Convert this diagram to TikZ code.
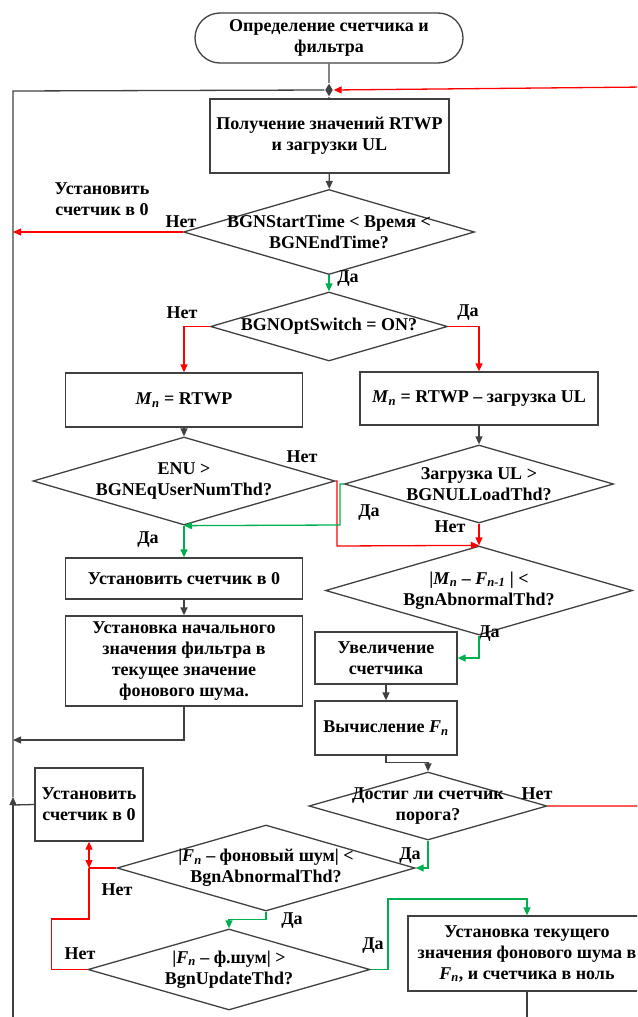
\documentclass[tikz,border=0pt]{standalone}
\usepackage{fontspec}
\setmainfont{Liberation Serif}
\usetikzlibrary{arrows.meta,shapes.geometric}
\definecolor{linegray}{RGB}{64,64,64}
\definecolor{nocolor}{RGB}{255,0,0}
\definecolor{yescolor}{RGB}{0,176,80}
\newcommand{\Mn}{\textit{M}\textsubscript{\textit{n}}}
\newcommand{\Fn}{\textit{F}\textsubscript{\textit{n}}}
\newcommand{\Fnp}{\textit{F}\textsubscript{\textit{n-1}}}

\begin{document}
\begin{tikzpicture}[x=1pt,y=-1pt,
    font=\bfseries\fontsize{18}{21}\selectfont,
    line width=1.3pt,
    >={Triangle[length=8pt,width=7pt]},
    box/.style 2 args={draw=linegray, align=center, inner sep=0pt,
        minimum width=#1pt, minimum height=#2pt},
    dia/.style 2 args={draw=linegray, diamond, inner sep=0pt,
        minimum width=#1pt, minimum height=#2pt},
    txt/.style={align=center, inner sep=0pt},
    gline/.style={draw=linegray},
    noline/.style={draw=nocolor},
    yesline/.style={draw=yescolor}]

    \useasboundingbox (0,0) rectangle (637,1017);
    \clip (0,0) rectangle (637,1017);

    % Start and first block
    \node[box={268}{50}, rounded corners=25pt] (start) at (329,38)
        {Определение счетчика и\\фильтра};
    \node[fill=linegray, diamond, inner sep=0pt, minimum width=8pt,
        minimum height=13pt] (jn) at (329,90) {};
    \node[box={239}{74}] (rtwp) at (329.5,136)
        {Получение значений RTWP\\и загрузки UL};

    % Decisions on time and switch
    \node[dia={291}{85}, label={[txt]center:{BGNStartTime < Время <\\BGNEndTime?}}]
        (tcheck) at (329,232) {};
    \node[dia={237}{69}, label={[txt]center:{BGNOptSwitch = ON?}}]
        (optsw) at (329,326.5) {};
    \node[box={237}{54}] (mrt) at (184,400) {\Mn{} = RTWP};
    \node[box={238}{53}] (mrtul) at (479,398.5) {\Mn{} = RTWP – загрузка UL};
    \node[dia={302}{88}, label={[txt]center:{ENU >\\BGNEqUserNumThd?}}]
        (enu) at (184,481) {};
    \node[dia={269}{78}, label={[txt]center:{Загрузка UL >\\BGNULLoadThd?}}]
        (ulload) at (479,484) {};
    \node[dia={307}{89}, label={[txt]center:{|\Mn{} – \Fnp{} | <\\BgnAbnormalThd?}}]
        (abn) at (479,590.5) {};

    % Left branch
    \node[box={237}{41}] (reset) at (184,578.5) {Установить счетчик в 0};
    \node[box={237}{90}] (init) at (184,661)
        {Установка начального\\значения фильтра в\\текущее значение\\фонового шума.};

    % Right branch
    \node[box={142}{52}] (incr) at (386,658) {Увеличение\\счетчика};
    \node[box={142}{54}] (calc) at (386,728) {Вычисление \Fn};
    \node[dia={238}{68}, label={[txt]center:{Достиг ли счетчик\\порога?}}]
        (thr) at (428,806) {};
    \node[dia={298}{86}, label={[txt]center:{|\Fn{} – фоновый шум| <\\BgnAbnormalThd?}}]
        (noise) at (266,868) {};
    \node[dia={282}{81}, label={[txt]center:{|\Fn{} – ф.шум| >\\BgnUpdateThd?}}]
        (updthd) at (229,969.5) {};
    \node[box={108}{73}] (reset2) at (89,804.5) {Установить\\счетчик в 0};
    \node[box={238}{75}] (upd) at (527,953.5)
        {Установка текущего\\значения фонового шума в\\\Fn, и счетчика в ноль};

    % Free labels
    \node[txt] (skip) at (102,199) {Установить\\счетчик в 0};
    \node[txt] at (181,222) {Нет};
    \node[txt] at (348,279) {Да};
    \node[txt] at (182,313) {Нет};
    \node[txt] at (468,313) {Да};
    \node[txt] at (302,457) {Нет};
    \node[txt] at (148,540) {Да};
    \node[txt] at (369,513) {Да};
    \node[txt] at (450,527) {Нет};
    \node[txt] at (489,634) {Да};
    \node[txt] at (537,794) {Нет};
    \node[txt] at (410,856) {Да};
    \node[txt] at (117,890) {Нет};
    \node[txt] at (292,921) {Да};
    \node[txt] at (80,954) {Нет};
    \node[txt] at (373,946) {Да};

    % Helper points of the loops
    \coordinate (lt) at (13,91);
    \coordinate (lb) at (13,1020);
    \coordinate (la) at (13,797);
    \coordinate (lr) at (13,805);
    \coordinate (lf) at (13,740);
    \coordinate (rb) at (645,806);
    \coordinate (rt) at (645,87);
    \coordinate (j2) at (89,868);
    \coordinate (j3) at (89,919);
    \coordinate (g1) at (388,899);
    \coordinate (ub) at (527,1020);
    \coordinate (r1) at (337,481);
    \coordinate (r2) at (337,546);
    \coordinate (y1) at (340,484);
    \coordinate (y2) at (340,525);

    % Gray connectors
    \draw[gline] (start) -- (jn) -- (rtwp);
    \draw[gline,->] (rtwp) -- (tcheck);
    \draw[gline,->] (mrt) -- (enu);
    \draw[gline,->] (mrtul) -- (ulload);
    \draw[gline,->] (reset) -- (init);
    \draw[gline,->] (init.south) |- (lf);
    \draw[gline,->] (incr) -- (calc);
    \draw[gline,->] (calc.south) -- ++(0,7) -| (thr.north);
    \draw[gline] (reset2.west) -- (lr);
    \draw[gline] (upd.south) -- (ub);
    \draw[gline,->] (lb) -- (la);
    \draw[gline] (la) -- (lt) -- (jn.west);

    % No branches
    \draw[noline,->] (tcheck.west) -- (tcheck.west -| lt);
    \draw[noline,->] (optsw.west) -| (mrt.north);
    \draw[noline,->] (optsw.east) -| (mrtul.north);
    \draw[noline,->] (enu.east) -- (r1) -- (r2) -- (abn.north);
    \draw[noline,->] (ulload.south) -- (abn.north);
    \draw[noline,->] (thr.east) -- (rb) -- (rt) -- (jn.east);
    \draw[noline] (noise.west) -- (j2);
    \draw[noline,<->] (reset2.south) -- (j2);
    \draw[noline] (updthd.west) -- ++(-36,0) |- (j3) -- (j2);

    % Yes branches
    \draw[yesline,->] (tcheck) -- (optsw);
    \draw[yesline,->] (ulload.west) -- (y1) -- (y2) -- (enu.south);
    \draw[yesline,->] (enu) -- (reset);
    \draw[yesline,->] (abn.south) |- (incr.east);
    \draw[yesline,->] (thr.south) |- (noise.east);
    \draw[yesline,->] (noise.south) -- ++(0,8) -| (updthd.north);
    \draw[yesline,->] (updthd.east) -| (g1) -| (upd.north);
\end{tikzpicture}
\end{document}
